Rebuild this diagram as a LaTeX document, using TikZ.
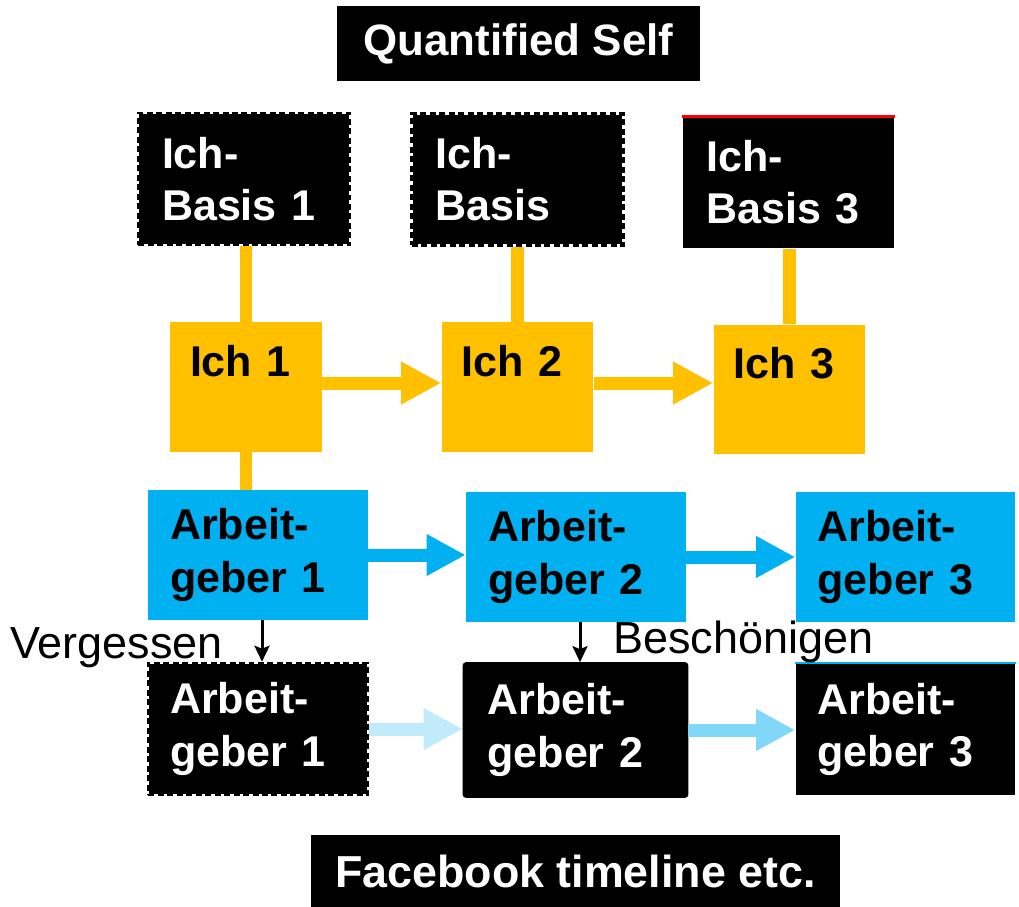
\documentclass[tikz,border=0pt]{standalone}
\usepackage{fontspec}
\setmainfont{Liberation Sans}
\usetikzlibrary{arrows.meta}

\definecolor{ichorange}{HTML}{FFC000}
\definecolor{agblue}{HTML}{00B0F0}

\tikzset{
	box/.style={rectangle, inner ysep=0pt, align=left, font=\bfseries\fontsize{24.5}{29.5}\selectfont},
	basisbox/.style={box, fill=black, text=white, inner xsep=0.48cm, text width=3.28cm, minimum height=2.64cm},
	ichbox/.style={box, fill=ichorange, inner xsep=0.4cm, text width=2.24cm, minimum height=2.6cm, text depth=1.06cm},
	agbox/.style={box, font=\bfseries\fontsize{24.5}{30}\selectfont, fill=agblue, inner xsep=0.44cm, text width=3.52cm, minimum height=2.6cm},
	erinbox/.style={agbox, fill=black, text=white, minimum height=2.64cm},
	dashedge/.style={draw=white, line width=0.05cm, postaction={draw=black, dash pattern=on 0.12cm off 0.07cm}},
	titlebox/.style={rectangle, fill=black, text=white, font=\bfseries\fontsize{25}{30}\selectfont},
	note/.style={font=\fontsize{25.6}{30}\selectfont, inner sep=0pt},
	ichline/.style={draw=ichorange, line width=0.26cm},
	icharrow/.style={ichline, -{Triangle[length=0.8cm, width=0.8cm]}},
	agarrow/.style={draw=agblue, line width=0.26cm, -{Triangle[length=0.78cm, width=0.78cm]}},
	downarrow/.style={line width=0.06cm, -{Stealth[length=0.32cm, width=0.3cm, inset=0.06cm]}}
}

\begin{document}
\begin{tikzpicture}[x=0.02cm, y=-0.02cm]
	\useasboundingbox (0,0) rectangle (1019,907);

	\node[titlebox, minimum width=7.26cm, minimum height=1.5cm] (qs) at (518.5,43.5) {Quantified Self};
	\node[titlebox, font=\bfseries\fontsize{25.5}{30}\selectfont, minimum width=10.58cm, minimum height=1.44cm] (fb) at (575.5,871) {Facebook timeline etc.};

	% Ich-Basis
	\node[basisbox, dashedge] (basis1) at (244,179) {Ich-\\Basis 1};
	\node[basisbox, dashedge] (basis2) at (517.5,179.5) {Ich-\\Basis};
	\node[basisbox] (basis3) at (788.5,182.5) {Ich-\\Basis 3};
	\draw[red, line width=0.06cm] (basis3.north west) -- (basis3.north east);

	% Ich
	\node[ichbox] (ich1) at (246,387) {Ich 1};
	\node[ichbox] (ich2) at (517.5,387) {Ich 2};
	\node[ichbox] (ich3) at (789.5,389.5) {Ich 3};

	% Arbeitgeber
	\node[agbox] (ag1) at (258,555) {Arbeit-\\geber 1};
	\node[agbox] (ag2) at (576,557) {Arbeit-\\geber 2};
	\node[agbox] (ag3) at (905.5,557) {Arbeit-\\geber 3};

	% erinnert
	\node[erinbox, dashedge] (erin1) at (258,729) {Arbeit-\\geber 1};
	\node[erinbox, draw=black, rounded corners=0.06cm, minimum width=4.5cm, minimum height=2.7cm] (erin2) at (575.5,730) {Arbeit-\\geber 2};
	\node[erinbox] (erin3) at (905.5,729.5) {Arbeit-\\geber 3};
	\draw[agblue, line width=0.05cm] (erin3.north west) -- (erin3.north east);

	\foreach \n in {1,2,3}
		\draw[ichline] (ich\n.north) -- (ich\n.north |- basis\n.south);
	\draw[ichline] (ich1.south) -- (ich1.south |- ag1.north);

	\draw[icharrow] ([yshift=0.08cm]ich1.east) -- ([yshift=0.08cm]ich1.east -| ich2.west);
	\draw[icharrow] ([yshift=0.08cm]ich2.east) -- ([yshift=0.08cm]ich2.east -| ich3.west);

	\draw[agarrow] (ag1.east) -- (ag1.east -| ag2.west);
	\draw[agarrow] (ag2.east) -- (ag2.east -| ag3.west);

	\draw[agarrow, draw=agblue!25] (erin1.east) -- (erin1.east -| erin2.west);
	\draw[agarrow, draw=agblue!50] (erin2.east) -- (erin2.east -| erin3.west);

	\draw[downarrow] ([xshift=0.08cm]ag1.south) -- ([xshift=0.08cm]ag1.south |- erin1.north);
	\draw[downarrow] ([xshift=0.08cm]ag2.south) -- ([xshift=0.08cm]ag2.south |- erin2.north);

	\node[note, anchor=base west] (vergessen) at (10,658) {Vergessen};
	\node[note, anchor=base west] (beschoenigen) at (613,653) {Beschönigen};
\end{tikzpicture}
\end{document}
